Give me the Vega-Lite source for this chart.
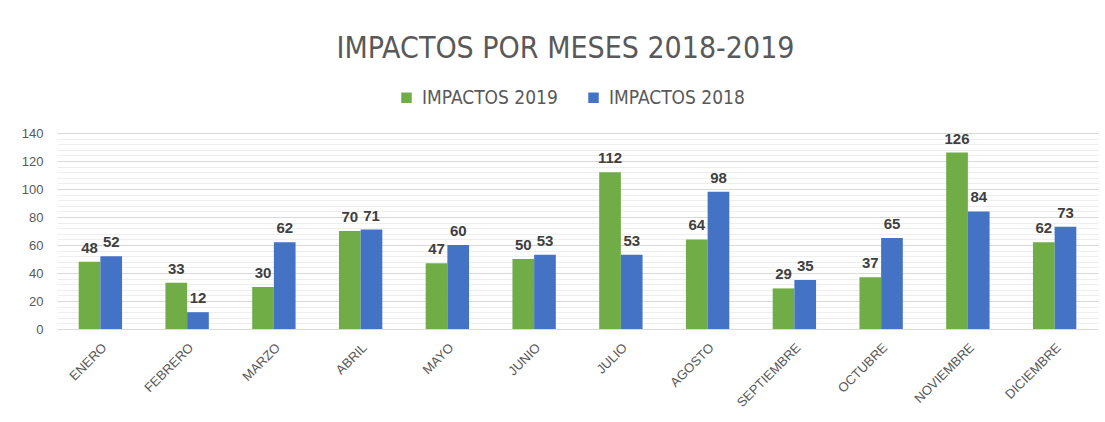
{
  "$schema": "https://vega.github.io/schema/vega-lite/v6.json",
  "width": 1041,
  "height": 196,
  "autosize": {"type": "none"},
  "padding": {"left": 57, "top": 133, "right": 7, "bottom": 93},
  "background": "white",
  "title": {
    "text": "IMPACTOS POR MESES 2018-2019",
    "font": "DejaVu Sans Condensed, Liberation Sans",
    "fontSize": 30,
    "fontWeight": "normal",
    "color": "#595959",
    "anchor": "middle",
    "dx": -12,
    "offset": 24
  },
  "data": {
    "values": [
      {"mes": "ENERO", "serie": "IMPACTOS 2019", "valor": 48},
      {"mes": "ENERO", "serie": "IMPACTOS 2018", "valor": 52},
      {"mes": "FEBRERO", "serie": "IMPACTOS 2019", "valor": 33},
      {"mes": "FEBRERO", "serie": "IMPACTOS 2018", "valor": 12},
      {"mes": "MARZO", "serie": "IMPACTOS 2019", "valor": 30},
      {"mes": "MARZO", "serie": "IMPACTOS 2018", "valor": 62},
      {"mes": "ABRIL", "serie": "IMPACTOS 2019", "valor": 70},
      {"mes": "ABRIL", "serie": "IMPACTOS 2018", "valor": 71},
      {"mes": "MAYO", "serie": "IMPACTOS 2019", "valor": 47},
      {"mes": "MAYO", "serie": "IMPACTOS 2018", "valor": 60},
      {"mes": "JUNIO", "serie": "IMPACTOS 2019", "valor": 50},
      {"mes": "JUNIO", "serie": "IMPACTOS 2018", "valor": 53},
      {"mes": "JULIO", "serie": "IMPACTOS 2019", "valor": 112},
      {"mes": "JULIO", "serie": "IMPACTOS 2018", "valor": 53},
      {"mes": "AGOSTO", "serie": "IMPACTOS 2019", "valor": 64},
      {"mes": "AGOSTO", "serie": "IMPACTOS 2018", "valor": 98},
      {"mes": "SEPTIEMBRE", "serie": "IMPACTOS 2019", "valor": 29},
      {"mes": "SEPTIEMBRE", "serie": "IMPACTOS 2018", "valor": 35},
      {"mes": "OCTUBRE", "serie": "IMPACTOS 2019", "valor": 37},
      {"mes": "OCTUBRE", "serie": "IMPACTOS 2018", "valor": 65},
      {"mes": "NOVIEMBRE", "serie": "IMPACTOS 2019", "valor": 126},
      {"mes": "NOVIEMBRE", "serie": "IMPACTOS 2018", "valor": 84},
      {"mes": "DICIEMBRE", "serie": "IMPACTOS 2019", "valor": 62},
      {"mes": "DICIEMBRE", "serie": "IMPACTOS 2018", "valor": 73}
    ]
  },
  "encoding": {
    "x": {
      "field": "mes",
      "type": "nominal",
      "sort": ["ENERO", "FEBRERO", "MARZO", "ABRIL", "MAYO", "JUNIO", "JULIO", "AGOSTO", "SEPTIEMBRE", "OCTUBRE", "NOVIEMBRE", "DICIEMBRE"],
      "scale": {"paddingInner": 0.5, "paddingOuter": 0.25},
      "axis": {
        "title": null,
        "labelAngle": -45,
        "labelFont": "Liberation Sans",
        "labelFontSize": 13,
        "labelColor": "#595959",
        "labelPadding": 12,
        "ticks": false,
        "domainColor": "#d9d9d9",
        "domainWidth": 1
      }
    },
    "xOffset": {"field": "serie", "sort": ["IMPACTOS 2019", "IMPACTOS 2018"]},
    "y": {
      "field": "valor",
      "type": "quantitative",
      "scale": {"domain": [0, 140], "nice": false},
      "axis": {
        "title": null,
        "values": [0, 4, 8, 12, 16, 20, 24, 28, 32, 36, 40, 44, 48, 52, 56, 60, 64, 68, 72, 76, 80, 84, 88, 92, 96, 100, 104, 108, 112, 116, 120, 124, 128, 132, 136, 140],
        "labelExpr": "datum.value % 20 === 0 ? datum.label : ''",
        "labelFont": "Liberation Sans",
        "labelFontSize": 13,
        "labelColor": "#595959",
        "labelPadding": 14,
        "ticks": false,
        "domain": false,
        "gridColor": {"condition": {"test": "datum.value % 20 === 0", "value": "#d9d9d9"}, "value": "#eeeeee"},
        "gridWidth": 1
      }
    }
  },
  "layer": [
    {
      "mark": {"type": "bar"},
      "encoding": {
        "color": {
          "field": "serie",
          "type": "nominal",
          "sort": ["IMPACTOS 2019", "IMPACTOS 2018"],
          "scale": {"domain": ["IMPACTOS 2019", "IMPACTOS 2018"], "range": ["#70AD47", "#4472C4"]},
          "legend": {
            "title": null,
            "orient": "none",
            "direction": "horizontal",
            "legendX": 340,
            "legendY": -45,
            "symbolType": "square",
            "symbolSize": 110,
            "symbolStrokeWidth": 0,
            "labelFont": "DejaVu Sans Condensed, Liberation Sans",
            "labelFontSize": 19,
            "labelColor": "#595959",
            "columnPadding": 26,
            "labelOffset": 6
          }
        }
      }
    },
    {
      "mark": {"type": "text", "baseline": "bottom", "dy": -6, "font": "Liberation Sans", "fontSize": 15, "fontWeight": "bold", "color": "#404040"},
      "encoding": {"text": {"field": "valor", "type": "quantitative"}}
    }
  ],
  "config": {"view": {"stroke": null}}
}
